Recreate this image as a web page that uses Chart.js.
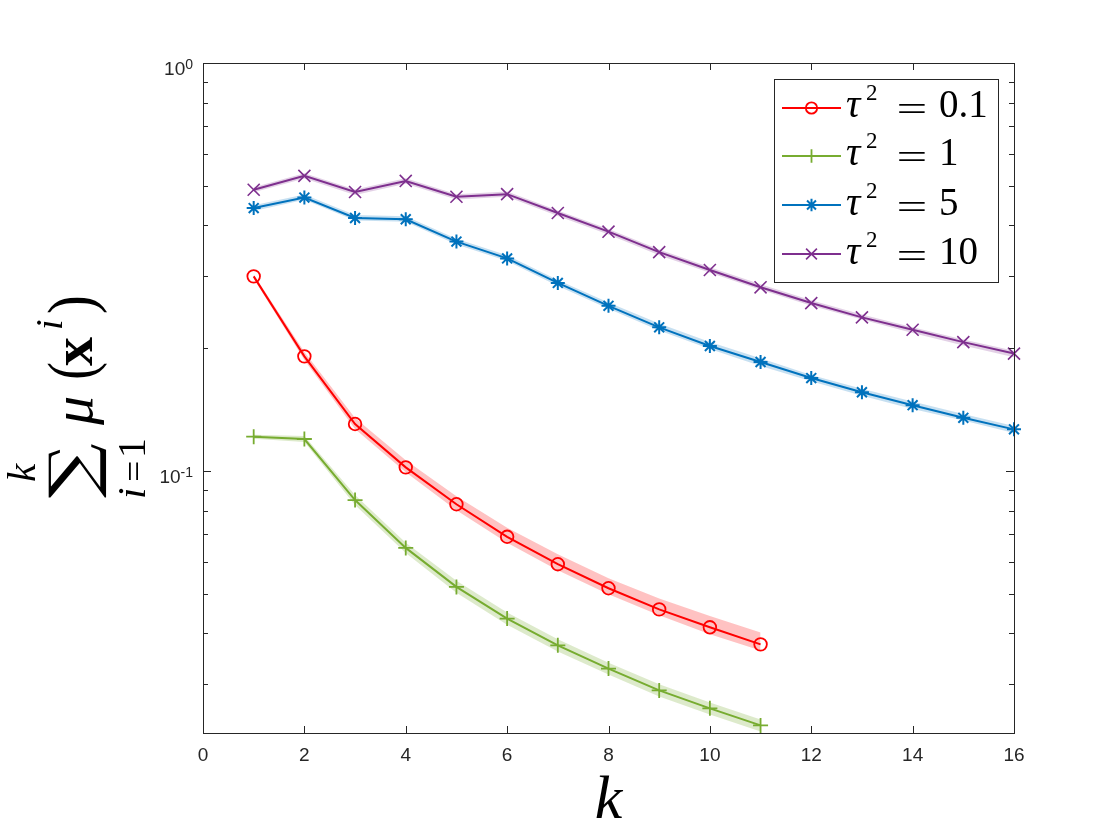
<!DOCTYPE html>
<html>
<head>
<meta charset="utf-8">
<script src="https://cdn.jsdelivr.net/npm/chart.js@4.4.1/dist/chart.umd.min.js"></script>
<style>
html,body{margin:0;padding:0;background:#ffffff;}
#wrap{width:1120px;height:840px;position:relative;}
</style>
</head>
<body>
<div id="wrap"><canvas id="c" width="1120" height="840"></canvas></div>
<script>
// ---------------- data ----------------
const kValues = [1,2,3,4,5,6,7,8,9,10,11,12,13,14,15,16];

const tau01Values = [0.300, 0.191, 0.1304, 0.1021, 0.0829, 0.0690, 0.0591, 0.0516, 0.0458, 0.0414, 0.0376];
const tau01Upper  = [0.303, 0.1958, 0.1349, 0.1062, 0.0867, 0.0726, 0.0625, 0.0546, 0.0487, 0.0441, 0.0402];
const tau01Lower  = [0.2962, 0.1871, 0.1268, 0.0993, 0.0801, 0.0667, 0.0571, 0.0499, 0.0443, 0.0398, 0.0363];

const tau1Values = [0.1214, 0.1198, 0.0849, 0.0648, 0.0520, 0.0435, 0.0374, 0.0328, 0.0290, 0.0262, 0.0238];
const tau1Upper  = [0.1228, 0.1218, 0.0873, 0.0667, 0.0538, 0.0450, 0.0387, 0.0339, 0.0300, 0.0271, 0.0246];
const tau1Lower  = [0.1200, 0.1178, 0.0825, 0.0630, 0.0503, 0.0420, 0.0361, 0.0317, 0.0280, 0.0253, 0.0230];

const tau5Values = [0.441, 0.468, 0.417, 0.414, 0.365, 0.332, 0.289, 0.254, 0.225, 0.2025, 0.185, 0.169, 0.156, 0.145, 0.135, 0.1265];
const tau5Upper  = [0.448, 0.476, 0.424, 0.421, 0.371, 0.338, 0.294, 0.259, 0.230, 0.207, 0.189, 0.172, 0.159, 0.148, 0.138, 0.129];
const tau5Lower  = [0.434, 0.462, 0.411, 0.408, 0.359, 0.327, 0.284, 0.250, 0.221, 0.199, 0.181, 0.166, 0.153, 0.142, 0.133, 0.124];

const tau10Values = [0.489, 0.529, 0.483, 0.514, 0.470, 0.477, 0.429, 0.386, 0.344, 0.311, 0.282, 0.258, 0.238, 0.222, 0.207, 0.194];
const tau10Upper  = [0.496, 0.537, 0.490, 0.522, 0.477, 0.484, 0.435, 0.392, 0.349, 0.316, 0.287, 0.262, 0.242, 0.225, 0.210, 0.197];
const tau10Lower  = [0.482, 0.521, 0.475, 0.506, 0.463, 0.470, 0.422, 0.380, 0.338, 0.306, 0.278, 0.254, 0.235, 0.218, 0.203, 0.190];

const seriesTauValues = ['0.1', '1', '5', '10'];
const xTickValues = [0, 2, 4, 6, 8, 10, 12, 14, 16];
const yTickValues = [0.03,0.04,0.05,0.06,0.07,0.08,0.09,0.1,0.2,0.3,0.4,0.5,0.6,0.7,0.8,0.9,1];
const yTickDecades = [0.1, 1];
const yTickExponents = ['-1', '0'];
const xTitle = 'k';

// ---------------- styling ----------------
const seriesDefs = [
  {values: tau01Values, upper: tau01Upper, lower: tau01Lower, color: '#FF0000', band: 'rgba(255,70,70,0.33)', style: 'circle', r: 6.3, bw: 1.8},
  {values: tau1Values,  upper: tau1Upper,  lower: tau1Lower,  color: '#77AC30', band: 'rgba(119,172,48,0.25)', style: 'cross', r: 7.5, bw: 1.8},
  {values: tau5Values,  upper: tau5Upper,  lower: tau5Lower,  color: '#0072BD', band: 'rgba(0,114,189,0.22)', style: 'star', r: 7, bw: 2},
  {values: tau10Values, upper: tau10Upper, lower: tau10Lower, color: '#7E2F8E', band: 'rgba(126,47,142,0.22)', style: 'crossRot', r: 8.5, bw: 1.6}
];

function pts(vals){ return vals.map((v,i)=>({x:kValues[i], y:v})); }
function decadeIndex(v){ return yTickDecades.findIndex(d => Math.abs(v - d) < 1e-9); }

const datasets = [];
seriesDefs.forEach((d, i) => {
  datasets.push({label: 'band-lo-'+i, data: pts(d.lower), borderWidth: 0, pointRadius: 0, fill: false, order: 10, borderColor: 'rgba(0,0,0,0)'});
  datasets.push({label: 'band-hi-'+i, data: pts(d.upper), borderWidth: 0, pointRadius: 0, fill: '-1', backgroundColor: d.band, order: 10, borderColor: 'rgba(0,0,0,0)'});
});
seriesDefs.forEach((d, i) => {
  datasets.push({
    label: 'τ² = ' + seriesTauValues[i],
    data: pts(d.values),
    borderColor: d.color, borderWidth: 2, tension: 0, fill: false,
    pointStyle: d.style, pointRadius: d.r, pointBorderWidth: d.bw,
    pointBorderColor: d.color, pointBackgroundColor: 'rgba(0,0,0,0)',
    clip: false, order: 0
  });
});

const AX = '#262626';
const SANS = '"Liberation Sans", Arial, Helvetica, sans-serif';
const SERIF = '"Liberation Serif", "DejaVu Serif", serif';

// box + inward ticks + y decade labels
const boxPlugin = {
  id: 'boxTicks',
  afterDatasetsDraw(chart){
    const {ctx, chartArea: a, scales: {x, y}} = chart;
    ctx.save();
    ctx.strokeStyle = AX; ctx.lineWidth = 1;
    ctx.beginPath();
    y.ticks.forEach(t => {
      const py = Math.round(y.getPixelForValue(t.value)) + 0.5;
      const len = decadeIndex(t.value) >= 0 ? 8 : 5;
      ctx.moveTo(a.left, py); ctx.lineTo(a.left + len, py);
      ctx.moveTo(a.right, py); ctx.lineTo(a.right - len, py);
    });
    x.ticks.forEach(t => {
      const px = Math.round(x.getPixelForValue(t.value)) + 0.5;
      ctx.moveTo(px, a.bottom); ctx.lineTo(px, a.bottom - 7);
      ctx.moveTo(px, a.top); ctx.lineTo(px, a.top + 7);
    });
    ctx.stroke();
    ctx.strokeRect(Math.round(a.left) + 0.5, Math.round(a.top) + 0.5, Math.round(a.right - a.left), Math.round(a.bottom - a.top));

    // decade labels 10^n
    ctx.fillStyle = AX;
    ctx.textBaseline = 'alphabetic';
    ctx.textAlign = 'right';
    yTickDecades.forEach((d, i) => {
      const py = y.getPixelForValue(d);
      const supRight = a.left - 10;
      ctx.font = '14px ' + SANS;
      const sw = ctx.measureText(yTickExponents[i]).width;
      ctx.fillText(yTickExponents[i], supRight, py + 6);
      ctx.font = '19px ' + SANS;
      ctx.fillText('10', supRight - sw, py + 11.5);
    });
    ctx.restore();
  }
};

function fitGlyph(ctx, s, font, x0, y0, x1, y1){
  ctx.save();
  ctx.font = font;
  const m = ctx.measureText(s);
  const w = m.actualBoundingBoxLeft + m.actualBoundingBoxRight;
  const h = m.actualBoundingBoxAscent + m.actualBoundingBoxDescent;
  ctx.translate(x0, y0);
  ctx.scale((x1 - x0) / w, (y1 - y0) / h);
  ctx.textBaseline = 'alphabetic';
  ctx.textAlign = 'left';
  ctx.fillText(s, m.actualBoundingBoxLeft, m.actualBoundingBoxAscent);
  ctx.restore();
}

const textPlugin = {
  id: 'texts',
  afterDraw(chart){
    const ctx = chart.ctx;
    const a = chart.chartArea;
    // ----- legend -----
    ctx.save();
    const L = 774, T = 79, R = 998, B = 282;
    ctx.fillStyle = '#ffffff';
    ctx.fillRect(L, T, R - L, B - T);
    ctx.strokeStyle = AX; ctx.lineWidth = 1;
    ctx.strokeRect(L + 0.5, T + 0.5, R - L, B - T);
    const lineYs = [108, 156, 205, 254];
    const baseYs = [117, 165, 215, 264];
    seriesDefs.forEach((d, i) => {
      const ly = lineYs[i];
      ctx.strokeStyle = d.color; ctx.lineWidth = 2;
      ctx.beginPath(); ctx.moveTo(782, ly); ctx.lineTo(841, ly); ctx.stroke();
      ctx.fillStyle = 'rgba(0,0,0,0)';
      ctx.lineWidth = d.bw;
      Chart.helpers.drawPoint(ctx, {pointStyle: d.style, radius: d.r * 0.9, borderWidth: d.bw, rotation: 0}, 811.5, ly);
      ctx.fillStyle = '#000000';
      ctx.textBaseline = 'alphabetic'; ctx.textAlign = 'left';
      const by = baseYs[i];
      ctx.font = 'italic 40px ' + SERIF;
      ctx.fillText('τ', 846, by);
      ctx.font = '23px ' + SERIF;
      ctx.fillText('2', 866, by - 17);
      fitGlyph(ctx, '=', '39px ' + SERIF, 898, by - 13.5, 926, by - 3.5);
      ctx.font = '39px ' + SERIF;
      ctx.fillText(seriesTauValues[i], 939, by);
    });
    ctx.restore();

    // ----- x title -----
    ctx.save();
    ctx.fillStyle = '#000000';
    ctx.font = 'italic 62px ' + SERIF;
    ctx.textAlign = 'center'; ctx.textBaseline = 'alphabetic';
    ctx.fillText(xTitle, (a.left + a.right) / 2, 818);
    ctx.restore();

    // ----- y title: sum_{i=1}^{k} mu(x^i) -----
    ctx.save();
    ctx.translate(92, 503);
    ctx.rotate(-Math.PI / 2);
    ctx.fillStyle = '#000000';
    ctx.textBaseline = 'alphabetic'; ctx.textAlign = 'left';
    fitGlyph(ctx, '∑', '60px "DejaVu Serif"', 5, -44, 60, 15);
    ctx.font = 'italic 41px ' + SERIF;
    ctx.fillText('k', 21, -57);
    ctx.fillText('i', 4, 53);
    fitGlyph(ctx, '=', '40px ' + SERIF, 23, 37, 41, 47);
    ctx.font = '40px ' + SERIF;
    ctx.fillText('1', 45, 53);
    ctx.font = 'italic 58px ' + SERIF;
    ctx.fillText('μ', 78, 0);
    fitGlyph(ctx, '(', '60px ' + SERIF, 125, -45, 140, 15);
    ctx.font = 'bold 58px ' + SERIF;
    ctx.fillText('x', 137, 0);
    ctx.font = 'italic 38px ' + SERIF;
    ctx.fillText('i', 173, -30);
    fitGlyph(ctx, ')', '60px ' + SERIF, 190, -45, 206, 15);
    ctx.restore();
  }
};

new Chart(document.getElementById('c'), {
  type: 'line',
  data: {datasets},
  options: {
    responsive: false,
    animation: false,
    events: [],
    layout: {padding: {top: 63, right: 106, bottom: 0, left: 0}},
    plugins: {legend: {display: false}, tooltip: {enabled: false}},
    scales: {
      x: {
        type: 'linear', min: 0, max: 16,
        afterBuildTicks(scale){ scale.ticks = xTickValues.map(v => ({value: v})); },
        afterFit(scale){ scale.height = 107; },
        grid: {display: false, drawTicks: false},
        border: {display: false},
        ticks: {color: AX, padding: 11, font: {family: SANS, size: 19}, maxRotation: 0, autoSkip: false}
      },
      y: {
        type: 'logarithmic', min: 0.0228, max: 1,
        afterBuildTicks(scale){ scale.ticks = yTickValues.map(v => ({value: v, major: decadeIndex(v) >= 0})); },
        afterFit(scale){ scale.width = 203; },
        grid: {display: false, drawTicks: false},
        border: {display: false},
        ticks: {display: false, autoSkip: false}
      }
    }
  },
  plugins: [boxPlugin, textPlugin]
});
</script>
</body>
</html>
